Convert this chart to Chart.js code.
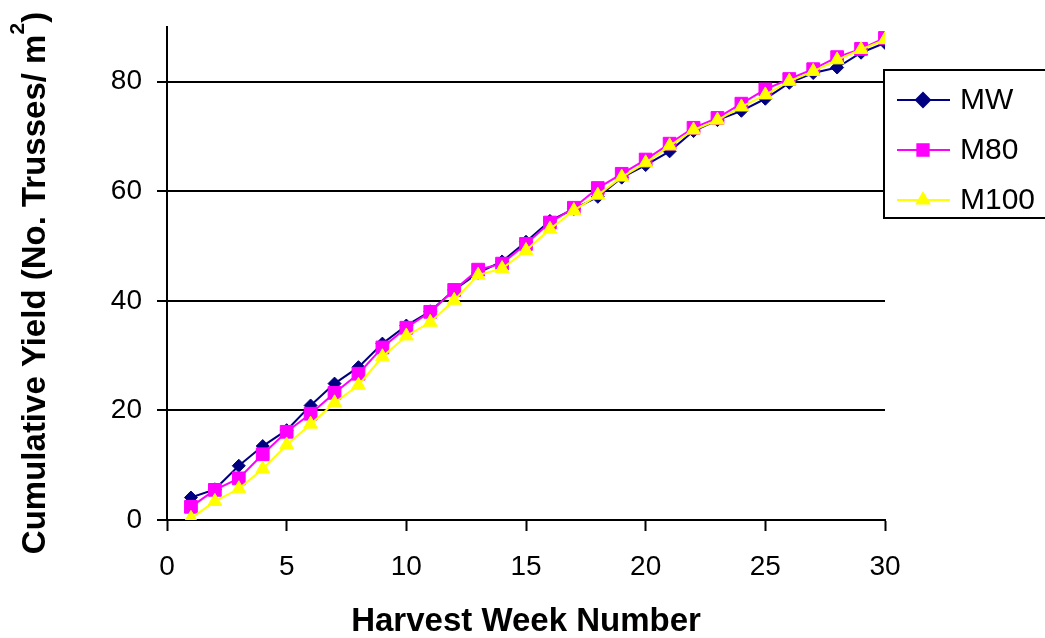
<!DOCTYPE html>
<html>
<head>
<meta charset="utf-8">
<title>Cumulative Yield</title>
<script src="https://cdn.jsdelivr.net/npm/chart.js"></script>
<style>
  html, body { margin: 0; padding: 0; background: #fff; }
  #wrap { width: 1045px; height: 638px; }
</style>
</head>
<body>
<div id="wrap"><canvas id="yieldChart" width="1045" height="638"></canvas></div>
<script>
const weeks = [1, 2, 3, 4, 5, 6, 7, 8, 9, 10, 11, 12, 13, 14, 15,
  16, 17, 18, 19, 20, 21, 22, 23, 24, 25, 26, 27, 28, 29, 30];

const mw = [4.1, 5.6, 9.9, 13.5, 16.4, 20.9, 24.9, 27.9, 32.2, 35.5,
  38.1, 42.0, 45.1, 47.2, 50.8, 54.6, 56.8, 59.0, 62.5, 64.8,
  67.3, 71.0, 73.0, 74.7, 76.9, 79.8, 81.6, 82.6, 85.3, 87.1];

const m80 = [2.4, 5.5, 7.6, 12.0, 16.1, 19.4, 23.2, 26.7, 31.5, 35.1,
  38.0, 42.0, 45.7, 46.8, 50.4, 54.3, 57.0, 60.6, 63.2, 65.8,
  68.7, 71.6, 73.4, 76.0, 78.6, 80.5, 82.3, 84.5, 86.0, 88.0];

const m100 = [0.3, 3.4, 5.7, 9.3, 13.7, 17.5, 21.4, 24.6, 29.8, 33.6,
  36.1, 40.1, 44.7, 45.9, 49.2, 53.1, 56.5, 59.3, 62.6, 65.2,
  68.3, 71.2, 73.0, 75.4, 77.6, 80.1, 81.9, 84.0, 85.9, 87.7];

const seriesNames = ["MW", "M80", "M100"];
const xTicks = [0, 5, 10, 15, 20, 25, 30];
const yTicks = [0, 20, 40, 60, 80];

const FONT = "'Liberation Sans', Arial, Helvetica, sans-serif";

function toPoints(values) {
  return weeks.map((w, i) => ({ x: w, y: values[i] }));
}

function series(label, values, color, style, radius, order) {
  return {
    label: label,
    data: toPoints(values),
    borderColor: color,
    backgroundColor: color,
    pointBackgroundColor: color,
    pointBorderColor: color,
    pointStyle: style,
    pointRadius: radius,
    pointBorderWidth: 1,
    borderWidth: 2,
    tension: 0,
    order: order,
  };
}

// y title with a real superscript, drawn by hand
const yTitle = {
  id: "yTitle",
  afterDraw(chart) {
    const ctx = chart.ctx;
    const main = "Cumulative Yield (No. Trusses/ m";
    const sup = "2";
    const tail = ")";
    ctx.save();
    ctx.translate(45, 283);
    ctx.rotate(-Math.PI / 2);
    ctx.fillStyle = "#000";
    ctx.textBaseline = "alphabetic";
    ctx.textAlign = "left";
    const big = "bold 33px " + FONT;
    const small = "bold 21px " + FONT;
    ctx.font = big;
    const w1 = ctx.measureText(main).width;
    const w3 = ctx.measureText(tail).width;
    ctx.font = small;
    const w2 = ctx.measureText(sup).width;
    let x = -(w1 + w2 + w3) / 2;
    ctx.font = big;
    ctx.fillText(main, x, 0);
    x += w1;
    ctx.font = small;
    ctx.fillText(sup, x, -21);
    x += w2;
    ctx.font = big;
    ctx.fillText(tail, x, 0);
    ctx.restore();
  },
};

// boxed legend with a line through each marker, drawn over the right edge
const boxLegend = {
  id: "boxLegend",
  afterDraw(chart) {
    const ctx = chart.ctx;
    const left = chart.chartArea.right - 1;
    const top = 70;
    const rowGap = 50;
    ctx.save();
    ctx.fillStyle = "#fff";
    ctx.fillRect(left, top, 200, 148);
    ctx.strokeStyle = "#000";
    ctx.lineWidth = 2;
    ctx.strokeRect(left, top, 200, 148);

    chart.data.datasets.forEach((ds, i) => {
      const y = top + 30 + i * rowGap;
      ctx.strokeStyle = ds.borderColor;
      ctx.lineWidth = 2;
      ctx.beginPath();
      ctx.moveTo(left + 13, y);
      ctx.lineTo(left + 66, y);
      ctx.stroke();
      ctx.fillStyle = ds.backgroundColor;
      Chart.helpers.drawPoint(ctx, {
        pointStyle: ds.pointStyle,
        radius: ds.pointStyle === "rect" ? 8 : 7,
        rotation: 0,
        borderWidth: 1,
      }, left + 39, y);
      ctx.fillStyle = "#000";
      ctx.font = "30px " + FONT;
      ctx.textBaseline = "middle";
      ctx.textAlign = "left";
      ctx.fillText(ds.label, left + 76, y + 1);
    });
    ctx.restore();
  },
};

new Chart(document.getElementById("yieldChart"), {
  type: "line",
  data: {
    datasets: [
      series(seriesNames[0], mw, "#000080", "rectRot", 6.5, 3),
      series(seriesNames[1], m80, "#FF00FF", "rect", 9, 2),
      series(seriesNames[2], m100, "#FFFF00", "triangle", 8, 1),
    ],
  },
  options: {
    responsive: false,
    animation: false,
    layout: { padding: { top: 27, right: 160, left: 0, bottom: 0 } },
    plugins: {
      legend: { display: false },
      tooltip: { enabled: false },
    },
    scales: {
      x: {
        type: "linear",
        min: 0,
        max: 30,
        afterFit(scale) {
          scale.height = 118;
          scale.paddingLeft = 0;
          scale.paddingRight = 0;
        },
        afterBuildTicks(scale) {
          scale.ticks = xTicks.map(v => ({ value: v }));
        },
        border: { display: true, color: "#000", width: 2 },
        grid: {
          drawOnChartArea: false,
          drawTicks: true,
          tickLength: 11,
          tickColor: "#000",
          tickWidth: 2,
        },
        ticks: {
          color: "#000",
          font: { family: FONT, size: 28 },
          padding: 19,
          maxRotation: 0,
        },
        title: {
          display: true,
          text: "Harvest Week Number",
          color: "#000",
          font: { family: FONT, size: 33, weight: "bold" },
          padding: { top: -4, bottom: -4 },
        },
      },
      y: {
        type: "linear",
        min: 0,
        max: 90,
        afterFit(scale) {
          scale.width = 167;
          scale.paddingTop = 0;
          scale.paddingBottom = 0;
        },
        afterBuildTicks(scale) {
          scale.ticks = yTicks.map(v => ({ value: v }));
        },
        border: { display: true, color: "#000", width: 2 },
        grid: {
          color: "#000",
          lineWidth: 2,
          drawTicks: true,
          tickLength: 10,
          tickColor: "#000",
          tickWidth: 2,
        },
        ticks: {
          color: "#000",
          font: { family: FONT, size: 28 },
          padding: 15,
        },
        title: { display: false },
      },
    },
  },
  plugins: [yTitle, boxLegend],
});
</script>
</body>
</html>
